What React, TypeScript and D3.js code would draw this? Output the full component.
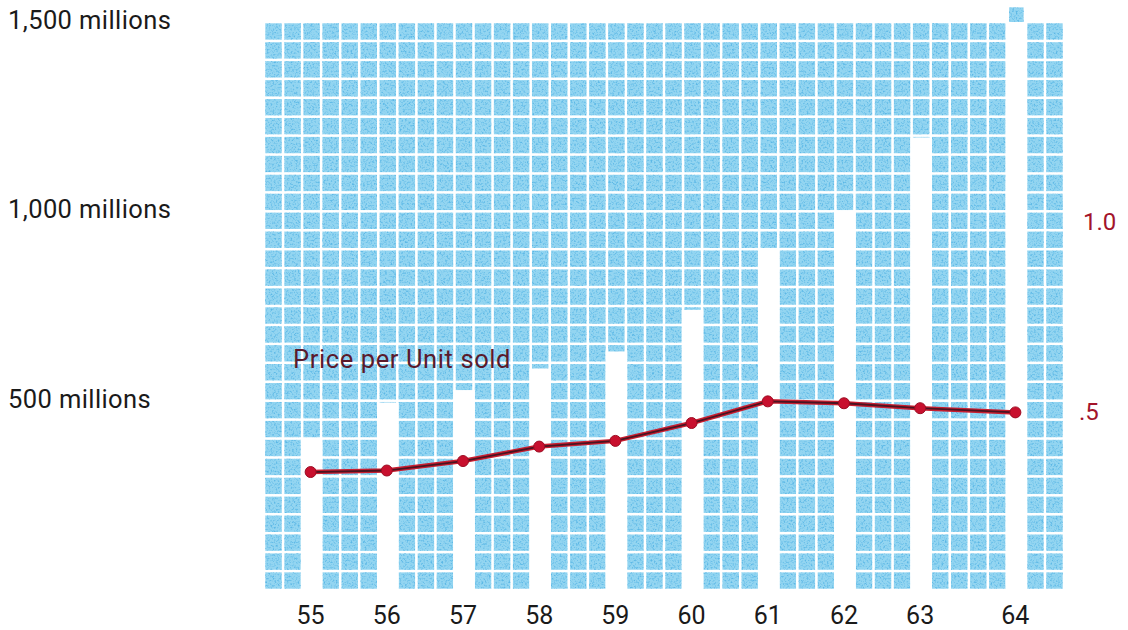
import React from "react";
import * as d3 from "d3";

// ---- data ----
const years = ["55", "56", "57", "58", "59", "60", "61", "62", "63", "64"];
const unitsSold = [400, 495, 528, 585, 630, 740, 900, 1000, 1195, 1500]; // millions
const pricePerUnit = [0.342, 0.346, 0.371, 0.409, 0.424, 0.471, 0.528, 0.523, 0.51, 0.499];
const leftTicks = [500, 1000, 1500];
const leftTickLabels = ["500 millions", "1,000 millions", "1,500 millions"];
const rightTicks = [0.5, 1.0];
const rightTickLabels = [".5", "1.0"];
const seriesLabel = "Price per Unit sold";
// tile grid structure: which tile column each year's (white) bar occupies
const barColumns = [2, 6, 10, 14, 18, 22, 26, 30, 34, 39];
const gridColumns = 42;
const unitsPerRow = 50; // each tile row = 50 millions
const unitsMax = 1500;

const W = 1128;
const H = 630;
const FONT = "Roboto, 'DejaVu Sans', sans-serif";
const TILE = "#93d5f1";

export default function App() {
  const xCol = d3.scaleLinear().domain([0, gridColumns]).range([264, 1064]);
  const yLeft = d3.scaleLinear().domain([0, unitsMax]).range([590, 22]);
  const yRight = d3.scaleLinear().domain([0, 1]).range([602, 222]);
  const gap = 2.6;

  const rows = d3.range(unitsMax / unitsPerRow);
  const cols = d3.range(gridColumns);

  const tiles: { x: number; y: number; w: number; h: number; k: string }[] = [];
  cols.forEach((c) => {
    rows.forEach((r) => {
      const y0 = yLeft((r + 1) * unitsPerRow);
      const y1 = yLeft(r * unitsPerRow);
      tiles.push({
        x: xCol(c) + gap / 2,
        y: y0 + gap / 2,
        w: xCol(c + 1) - xCol(c) - gap,
        h: y1 - y0 - gap,
        k: `${c}-${r}`,
      });
    });
  });

  // a cap tile above a bar that reaches the top of the scale
  const caps = unitsSold
    .map((v, i) => ({ v, i }))
    .filter((d) => d.v >= unitsMax)
    .map((d) => {
      const c = barColumns[d.i];
      const y0 = yLeft(unitsMax + unitsPerRow);
      const y1 = yLeft(unitsMax);
      return {
        x: xCol(c) + gap / 2 + 1,
        y: y0 + gap / 2 + 3,
        w: xCol(c + 1) - xCol(c) - gap - 2,
        h: y1 - y0 - gap + 1,
        k: `cap-${d.i}`,
      };
    });

  const cx = (i: number) => xCol(barColumns[i] + 0.5) - 1;

  const line = d3
    .line<number>()
    .x((_, i) => cx(i))
    .y((d) => yRight(d));

  return (
    <svg
      width={W}
      height={H}
      style={{ position: "absolute", left: 0, top: 0, background: "#fff" }}
      fontFamily={FONT}
    >
      <defs>
        <filter id="speckle" x="0" y="0" width="100%" height="100%" colorInterpolationFilters="sRGB">
          <feTurbulence type="fractalNoise" baseFrequency="0.55" numOctaves="2" seed="7" result="n" />
          <feColorMatrix
            in="n"
            type="matrix"
            values="0 0 0 0 0.36  0 0 0 0 0.72  0 0 0 0 0.9  3.2 0 0 0 -1.55"
            result="dots"
          />
          <feComposite in="dots" in2="SourceGraphic" operator="in" result="dotsIn" />
          <feMerge>
            <feMergeNode in="SourceGraphic" />
            <feMergeNode in="dotsIn" />
          </feMerge>
        </filter>
      </defs>
      <rect x={0} y={0} width={W} height={H} fill="#fff" />

      {/* tile grid */}
      <g filter="url(#speckle)">
        {tiles.map((t) => (
          <rect key={t.k} x={t.x} y={t.y} width={t.w} height={t.h} fill={TILE} />
        ))}
        {caps.map((t) => (
          <rect key={t.k} x={t.x} y={t.y} width={t.w} height={t.h} fill={TILE} />
        ))}
      </g>

      {/* white bars cut out of the grid */}
      <g>
        {unitsSold.map((v, i) => {
          const c = barColumns[i];
          const x0 = xCol(c) - gap / 2;
          const x1 = xCol(c + 1) + gap / 2;
          return (
            <rect
              key={years[i]}
              x={x0}
              y={yLeft(Math.min(v, unitsMax))}
              width={x1 - x0}
              height={yLeft(0) - yLeft(Math.min(v, unitsMax)) + 2}
              fill="#fff"
            />
          );
        })}
      </g>

      {/* left axis labels */}
      <g fill="#1a1a1a" fontSize={25.5}>
        {leftTicks.map((t, i) => (
          <text key={t} x={8} y={yLeft(t) - 2} dominantBaseline="central" letterSpacing={0.4}>
            {leftTickLabels[i]}
          </text>
        ))}
      </g>

      {/* right axis labels */}
      <g fill="#a3142b" fontSize={24}>
        {rightTicks.map((t, i) => (
          <text key={t} x={t >= 1 ? 1083 : 1079} y={yRight(t)} dominantBaseline="central">
            {rightTickLabels[i]}
          </text>
        ))}
      </g>

      {/* x labels */}
      <g fill="#1a1a1a" fontSize={25} textAnchor="middle">
        {years.map((y, i) => (
          <text key={y} x={cx(i)} y={615} dominantBaseline="central">
            {y}
          </text>
        ))}
      </g>

      {/* price line */}
      <path d={line(pricePerUnit) || ""} fill="none" stroke="#c81e30" strokeWidth={4.5} />
      <path d={line(pricePerUnit) || ""} fill="none" stroke="#4a1422" strokeWidth={1.8} />
      {pricePerUnit.map((p, i) => (
        <circle key={years[i]} cx={cx(i)} cy={yRight(p)} r={5.5} fill="#c8102e" stroke="#9c0c22" strokeWidth={1} />
      ))}

      <text x={293} y={359} fill="#5a1a2c" fontSize={25.5} letterSpacing={0.6} dominantBaseline="central">
        {seriesLabel}
      </text>
    </svg>
  );
}
